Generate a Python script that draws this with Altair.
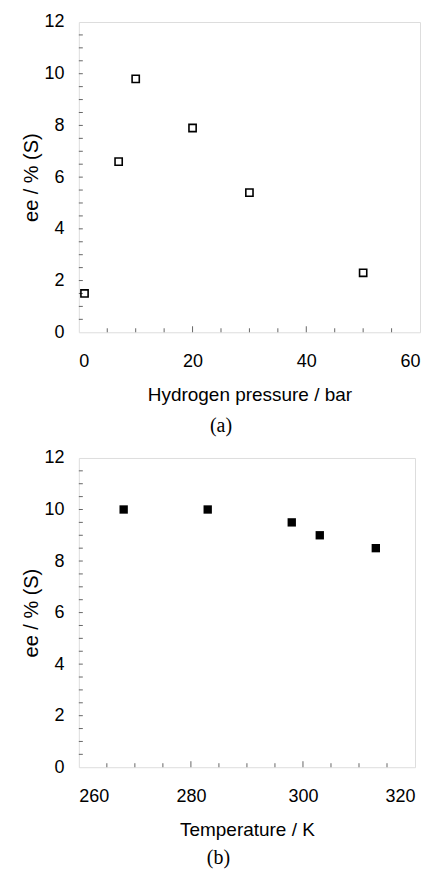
import altair as alt
import pandas as pd

# Panel (a): ee vs hydrogen pressure
pressure = [1, 7, 10, 20, 30, 50]
ee_pressure = [1.5, 6.6, 9.8, 7.9, 5.4, 2.3]

# Panel (b): ee vs temperature
temperature = [268, 283, 298, 303, 313]
ee_temperature = [10.0, 10.0, 9.5, 9.0, 8.5]

# Axis tick values
x_labels_a = [0, 20, 40, 60]
x_major_ticks_a = [20, 40]
x_minor_ticks_a = [5, 10, 15, 25, 30, 35, 45, 50, 55]
x_labels_b = [260, 280, 300, 320]
x_major_ticks_b = [280, 300]
x_minor_ticks_b = [265, 270, 275, 285, 290, 295, 305, 310, 315]
y_labels = [0, 2, 4, 6, 8, 10, 12]
y_minor_ticks = [0.5, 1, 1.5, 2, 2.5, 3, 3.5, 4, 4.5, 5, 5.5, 6, 6.5, 7, 7.5,
                 8, 8.5, 9, 9.5, 10, 10.5, 11, 11.5]

FONT = "Liberation Sans"
TICK_COLOR = "#666666"


def panel(xs, ys, xdomain, xlabels, xmajor, xminor, xtitle, caption, filled, W, H,
          cap_offset):
    df = pd.DataFrame({"x": xs, "y": ys})
    xscale = alt.Scale(domain=xdomain, nice=False, zero=False)
    yscale = alt.Scale(domain=[0, 12], nice=False)
    x_enc = alt.X(
        "x:Q", scale=xscale,
        axis=alt.Axis(values=xlabels, title=xtitle, ticks=False, grid=False,
                      domain=False, labelPadding=20, titlePadding=15,
                      labelFontSize=18, titleFontSize=19, labelFont=FONT,
                      titleFont=FONT, titleFontWeight="normal",
                      labelColor="black", titleColor="black"),
    )
    y_enc = alt.Y(
        "y:Q", scale=yscale,
        axis=alt.Axis(values=y_labels, title="ee / % (S)", ticks=False, grid=False,
                      domain=False, labelPadding=15, titlePadding=2,
                      labelFontSize=18, titleFontSize=20, labelFont=FONT,
                      titleFont=FONT, titleFontWeight="normal",
                      labelColor="black", titleColor="black"),
    )
    if filled:
        pts = alt.Chart(df).mark_square(size=70, filled=True, color="black", opacity=1)
    else:
        pts = alt.Chart(df).mark_square(size=52, filled=False, color="black",
                                        strokeWidth=1.6, opacity=1)
    pts = pts.encode(x=x_enc, y=y_enc)

    minor_x = alt.Chart(pd.DataFrame({"x": xminor})).mark_rule(
        color=TICK_COLOR, strokeWidth=1
    ).encode(x=alt.X("x:Q", scale=xscale), y=alt.value(H), y2=alt.value(H - 4))
    major_x = alt.Chart(pd.DataFrame({"x": xmajor})).mark_rule(
        color=TICK_COLOR, strokeWidth=1
    ).encode(x=alt.X("x:Q", scale=xscale), y=alt.value(H), y2=alt.value(H - 6))
    minor_y = alt.Chart(pd.DataFrame({"y": y_minor_ticks})).mark_rule(
        color=TICK_COLOR, strokeWidth=1
    ).encode(y=alt.Y("y:Q", scale=yscale), x=alt.value(0), x2=alt.value(4))

    return alt.layer(minor_x, major_x, minor_y, pts).properties(
        width=W, height=H,
        title=alt.TitleParams(caption, orient="bottom", font="Liberation Serif",
                              fontSize=20, fontWeight="normal", color="black",
                              offset=cap_offset, anchor="middle", frame="bounds"),
    )


a = panel(pressure, ee_pressure, [0, 60], x_labels_a, x_major_ticks_a,
          x_minor_ticks_a, "Hydrogen pressure / bar", "(a)", False, 342, 311, 12)
b = panel(temperature, ee_temperature, [260, 320], x_labels_b, x_major_ticks_b,
          x_minor_ticks_b, "Temperature / K", "(b)", True, 337, 310, 9)

chart = alt.vconcat(a, b, spacing=11).properties(
    padding={"left": 13, "top": 3, "right": 5, "bottom": 2}
).configure_view(
    stroke="#888888", strokeWidth=1
).configure(background="white")

chart.save("out.html", embed_options={"renderer": "svg", "actions": False})
